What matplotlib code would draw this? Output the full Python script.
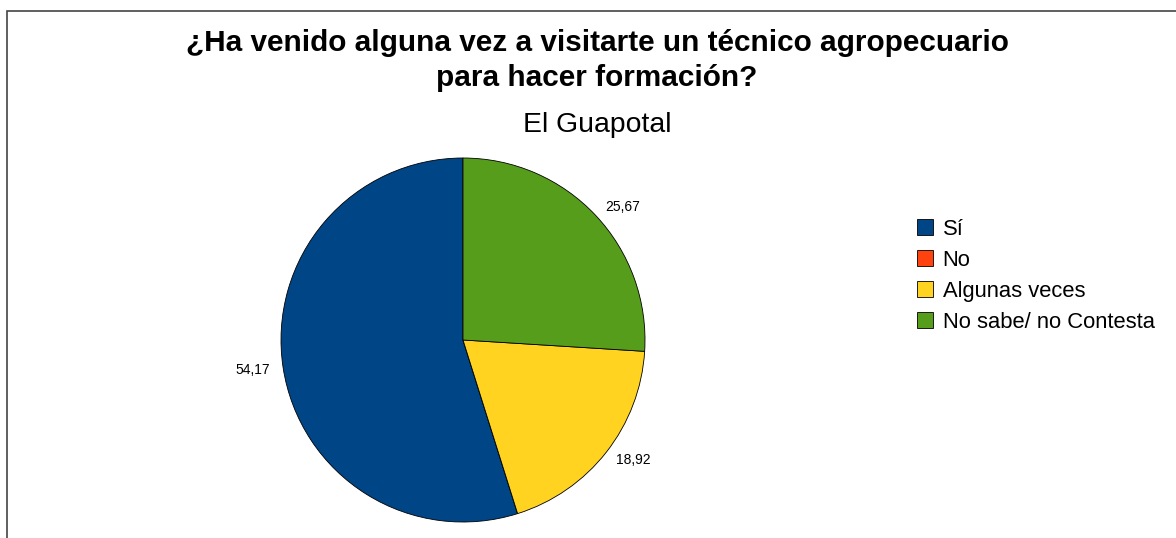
import matplotlib.pyplot as plt
from matplotlib.patches import Rectangle

plt.rcParams['font.family'] = ['Liberation Sans', 'DejaVu Sans']

# Data
categories = ["Sí", "No", "Algunas veces", "No sabe/ no Contesta"]
values = [54.17, 0.0, 18.92, 25.67]
colors = ["#004586", "#ff420e", "#ffd320", "#579d1c"]
title_lines = ["¿Ha venido alguna vez a visitarte un técnico agropecuario",
               "para hacer formación?"]
subtitle = "El Guapotal"

W, H = 1176, 538
fig = plt.figure(figsize=(W / 100, H / 100), dpi=100)

# outer frame (cut off at right and bottom like the original)
fig.patches.append(Rectangle((7 / W, -1), 2, 2 - 11 / H, transform=fig.transFigure,
                             fill=False, edgecolor="#444444", linewidth=1.2))

# pie axes
ax = fig.add_axes([281 / W, 16 / H, 364 / W, 364 / H])
labels = [f"{v:.2f}".replace(".", ",") if v > 0 else "" for v in values]
wedges, texts = ax.pie(values, colors=colors, labels=labels, startangle=90,
                       counterclock=True, labeldistance=1.07,
                       wedgeprops=dict(edgecolor="black", linewidth=0.6),
                       textprops=dict(fontsize=10))
ax.set_aspect("equal")
ax.set_xlim(-1, 1)
ax.set_ylim(-1, 1)

# titles
fig.text(597 / W, 1 - 51 / H, title_lines[0],
         ha="center", va="baseline", fontsize=21.4, fontweight="bold")
fig.text(597 / W, 1 - 86 / H, title_lines[1],
         ha="center", va="baseline", fontsize=21.4, fontweight="bold")
fig.text(597 / W, 1 - 132 / H, subtitle, ha="center", va="baseline", fontsize=20.4)

# legend
fig.legend(wedges, categories, loc="upper left", bbox_to_anchor=(906 / W, 1 - 208 / H),
           frameon=False, fontsize=15.8, handlelength=0.72, handleheight=0.72,
           handletextpad=0.45, labelspacing=0.45, borderpad=0)

fig.savefig("out.png", dpi=100)
